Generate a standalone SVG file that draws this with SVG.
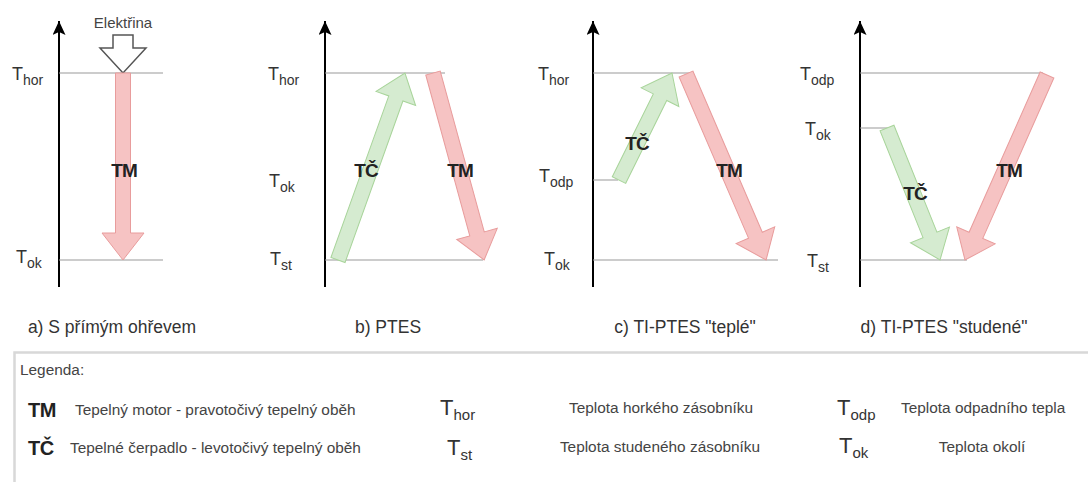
<svg xmlns="http://www.w3.org/2000/svg" width="1088" height="482" viewBox="0 0 1088 482">
<defs>
<marker id="ax" markerUnits="userSpaceOnUse" markerWidth="14" markerHeight="14" refX="14" refY="6.5" orient="auto">
<path d="M0,0 L14,6.5 L0,13 L3,6.5 Z" fill="#000"/>
</marker>
</defs>
<style>
.axis{stroke:#000;stroke-width:2;fill:none}
.lvl{stroke:#999;stroke-width:1;fill:none}
.red{fill:#f6c3c3;stroke:#e89c9c;stroke-width:1}
.grn{fill:#d5ebd0;stroke:#a8d49a;stroke-width:1}
.tl{font-family:"Liberation Sans",Arial,sans-serif;font-size:18px;fill:#333}
.sub{font-size:14px}
.lab{font-family:"Liberation Sans",Arial,sans-serif;font-size:19px;font-weight:bold;fill:#222;text-anchor:middle;letter-spacing:-1px}
.cap{font-family:"Liberation Sans",Arial,sans-serif;font-size:17.5px;fill:#333;text-anchor:middle}
.leg{font-family:"Liberation Sans",Arial,sans-serif;font-size:15.4px;fill:#444}
.legT{font-family:"Liberation Sans",Arial,sans-serif;font-size:22px;fill:#333}
.legS{font-size:15px}
.legB{font-family:"Liberation Sans",Arial,sans-serif;font-size:20px;font-weight:bold;fill:#222;letter-spacing:-0.5px}
</style>
<rect width="1088" height="482" fill="#fff"/>

<g id="connectors">
<line class="axis" x1="59" y1="287" x2="59" y2="21" marker-end="url(#ax)"/>
<line class="axis" x1="325" y1="287" x2="325" y2="21" marker-end="url(#ax)"/>
<line class="axis" x1="593" y1="287" x2="593" y2="21" marker-end="url(#ax)"/>
<line class="axis" x1="860" y1="287" x2="860" y2="21" marker-end="url(#ax)"/>
<line class="lvl" x1="59" y1="73" x2="163" y2="73"/>
<line class="lvl" x1="59" y1="260" x2="163" y2="260"/>
<line class="lvl" x1="325" y1="73" x2="445" y2="73"/>
<line class="lvl" x1="325" y1="260" x2="483" y2="260"/>
<line class="lvl" x1="593" y1="73" x2="690" y2="73"/>
<line class="lvl" x1="593" y1="180" x2="618" y2="180"/>
<line class="lvl" x1="593" y1="260" x2="778" y2="260"/>
<line class="lvl" x1="860" y1="73" x2="1043" y2="73"/>
<line class="lvl" x1="860" y1="128" x2="888" y2="128"/>
<line class="lvl" x1="860" y1="260" x2="967" y2="260"/>
</g>

<g id="panel-a">
<text class="tl" x="12" y="80">T<tspan class="sub" dy="5">hor</tspan></text>
<text class="tl" x="16" y="263">T<tspan class="sub" dy="5">ok</tspan></text>
<text x="123" y="28" font-family="Liberation Sans, Arial, sans-serif" font-size="15" fill="#444" text-anchor="middle">Elektřina</text>
<polygon points="113,35 133,35 133,48 146,48 123,73 100,48 113,48" fill="#fff" stroke="#555" stroke-width="1.5"/>
<polygon class="red" transform="translate(123,73) rotate(90)" points="0,-7.5 160,-7.5 160,-21 187,0 160,21 160,7.5 0,7.5"/>
<text class="lab" x="124" y="177">TM</text>
<text class="cap" x="112" y="333">a) S přímým ohřevem</text>
</g>

<g id="panel-b">
<text class="tl" x="268" y="80">T<tspan class="sub" dy="5">hor</tspan></text>
<text class="tl" x="269" y="187">T<tspan class="sub" dy="5">ok</tspan></text>
<text class="tl" x="270" y="265">T<tspan class="sub" dy="5">st</tspan></text>
<polygon class="grn" transform="translate(338,260) rotate(-70.3)" points="0,-7.5 171.6,-7.5 171.6,-21 198.6,0 171.6,21 171.6,7.5 0,7.5"/>
<polygon class="red" transform="translate(433,73) rotate(74.7)" points="0,-7.5 166.8,-7.5 166.8,-21 193.8,0 166.8,21 166.8,7.5 0,7.5"/>
<text class="lab" x="366" y="177">TČ</text>
<text class="lab" x="460" y="177">TM</text>
<text class="cap" x="388" y="333">b) PTES</text>
</g>

<g id="panel-c">
<text class="tl" x="538" y="80">T<tspan class="sub" dy="5">hor</tspan></text>
<text class="tl" x="539" y="182">T<tspan class="sub" dy="5">odp</tspan></text>
<text class="tl" x="544" y="265">T<tspan class="sub" dy="5">ok</tspan></text>
<polygon class="grn" transform="translate(619,180) rotate(-63.65)" points="0,-7.5 92.4,-7.5 92.4,-21 119.4,0 92.4,21 92.4,7.5 0,7.5"/>
<polygon class="red" transform="translate(686,74) rotate(66.7)" points="0,-7.5 175.5,-7.5 175.5,-21 202.5,0 175.5,21 175.5,7.5 0,7.5"/>
<text class="lab" x="637" y="150">TČ</text>
<text class="lab" x="729" y="177">TM</text>
<text class="cap" x="685" y="333">c) TI-PTES "teplé"</text>
</g>

<g id="panel-d">
<text class="tl" x="800" y="80">T<tspan class="sub" dy="5">odp</tspan></text>
<text class="tl" x="805" y="135">T<tspan class="sub" dy="5">ok</tspan></text>
<text class="tl" x="807" y="267">T<tspan class="sub" dy="5">st</tspan></text>
<polygon class="grn" transform="translate(887,128) rotate(68.1)" points="0,-7.5 115.2,-7.5 115.2,-21 142.2,0 115.2,21 115.2,7.5 0,7.5"/>
<polygon class="red" transform="translate(1047,75) rotate(113.9)" points="0,-7.5 175.4,-7.5 175.4,-21 202.4,0 175.4,21 175.4,7.5 0,7.5"/>
<text class="lab" x="915" y="200">TČ</text>
<text class="lab" x="1009" y="177">TM</text>
<text class="cap" x="944" y="333">d) TI-PTES "studené"</text>
</g>

<g id="legend">
<rect x="14.5" y="352.5" width="1100" height="200" fill="none" stroke="#d8d8d8" stroke-width="2.5"/>
<text class="leg" x="20" y="375" font-size="17">Legenda:</text>
<text class="legB" x="28" y="417">TM</text>
<text class="leg" x="75" y="415">Tepelný motor - pravotočivý tepelný oběh</text>
<text class="legB" x="28" y="455">TČ</text>
<text class="leg" x="70" y="453">Tepelné čerpadlo - levotočivý tepelný oběh</text>
<text class="legT" x="440" y="415">T<tspan class="legS" dy="5">hor</tspan></text>
<text class="legT" x="447" y="455">T<tspan class="legS" dy="5">st</tspan></text>
<text class="leg" x="661" y="413" text-anchor="middle">Teplota horkého zásobníku</text>
<text class="leg" x="660" y="452" text-anchor="middle">Teplota studeného zásobníku</text>
<text class="legT" x="837" y="415">T<tspan class="legS" dy="5">odp</tspan></text>
<text class="legT" x="839" y="453">T<tspan class="legS" dy="5">ok</tspan></text>
<text class="leg" x="901" y="413">Teplota odpadního tepla</text>
<text class="leg" x="982" y="452" text-anchor="middle">Teplota okolí</text>
</g>
</svg>
